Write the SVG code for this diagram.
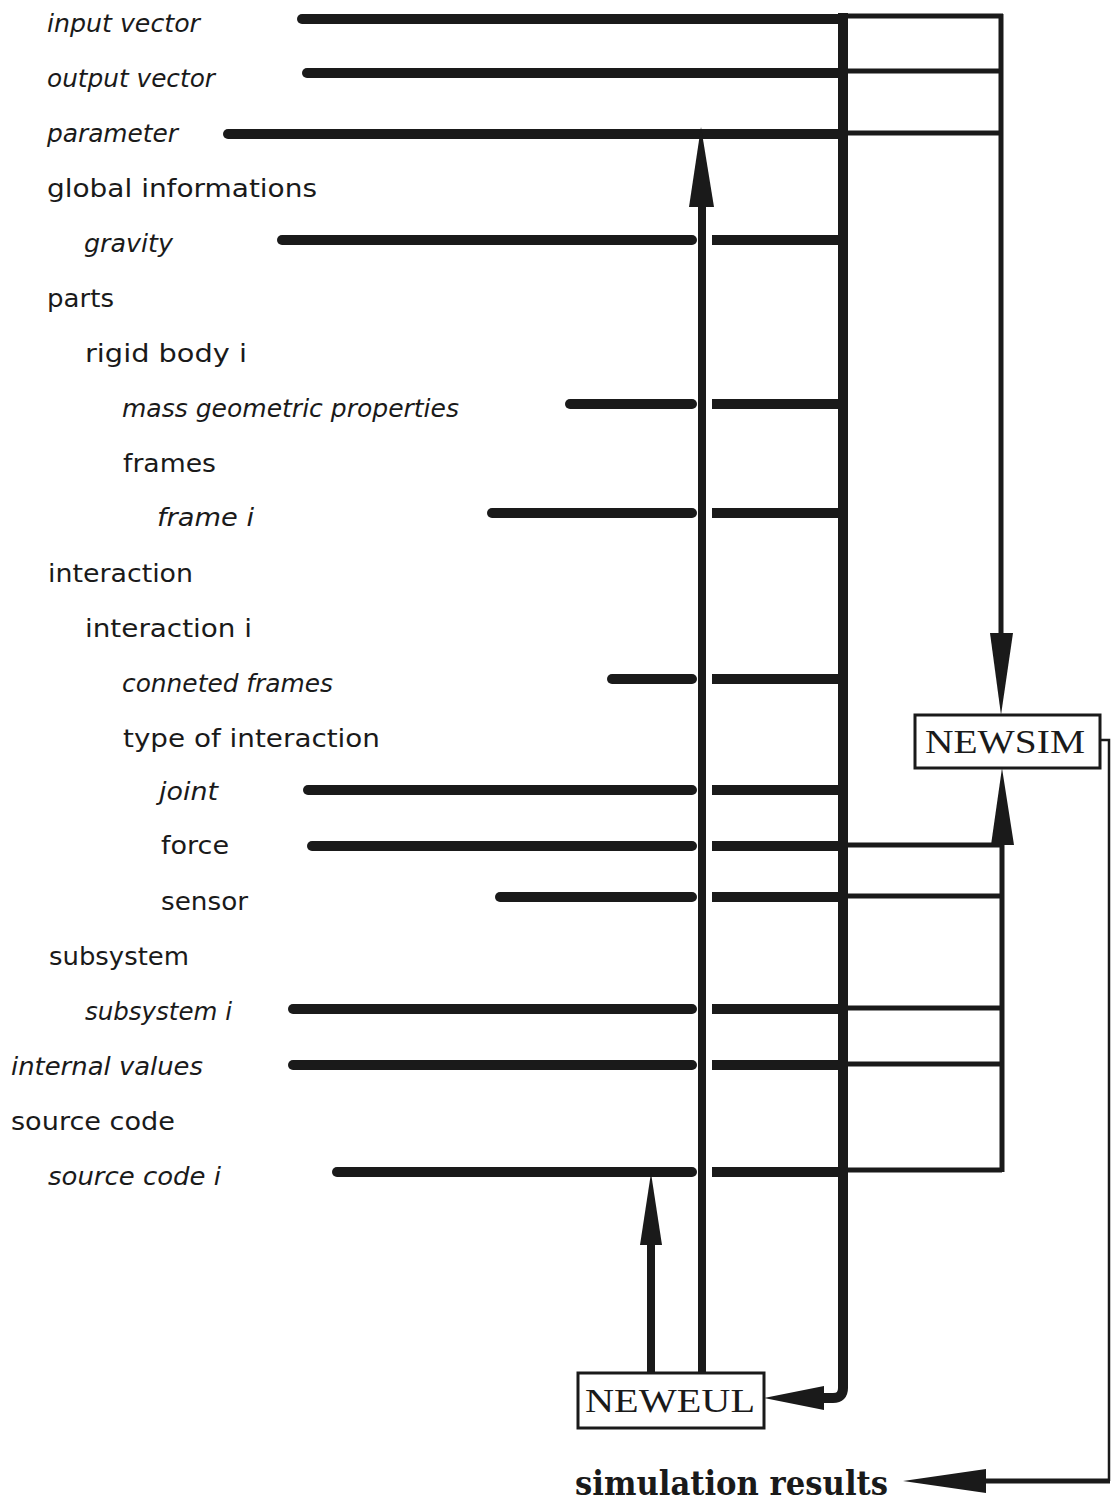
<svg xmlns="http://www.w3.org/2000/svg" width="1111" height="1502" viewBox="0 0 1111 1502">
<style>
.lbl{font-family:"DejaVu Sans","Liberation Sans",sans-serif;font-size:24px;fill:#1a1a1a}
.it{font-style:italic}
.box{fill:#fff;stroke:#1a1a1a;stroke-width:3}
.bt{font-family:"Liberation Serif","DejaVu Serif",serif;font-size:34px;fill:#1a1a1a}
.res{font-family:"DejaVu Serif","Liberation Serif",serif;font-size:33px;font-weight:bold;fill:#1a1a1a}
.tk{stroke:#1a1a1a;stroke-width:10;fill:none}
.tkl{stroke:#1a1a1a;stroke-width:10;fill:none;stroke-linecap:round}
.tn{stroke:#1a1a1a;stroke-width:5;fill:none}
.hl{stroke:#1a1a1a;stroke-width:2.5;fill:none}
.v{stroke:#1a1a1a;stroke-width:8;fill:none}
.ah{fill:#1a1a1a;stroke:none}
</style>
<rect width="1111" height="1502" fill="#fff"/>
<g id="labels">
<text class="lbl it" x="47" y="32" textLength="153" lengthAdjust="spacingAndGlyphs">input vector</text>
<text class="lbl it" x="47" y="87" textLength="168" lengthAdjust="spacingAndGlyphs">output vector</text>
<text class="lbl it" x="47" y="142" textLength="131" lengthAdjust="spacingAndGlyphs">parameter</text>
<text class="lbl" x="47" y="197" textLength="270" lengthAdjust="spacingAndGlyphs">global informations</text>
<text class="lbl it" x="84" y="252" textLength="89" lengthAdjust="spacingAndGlyphs">gravity</text>
<text class="lbl" x="47" y="307" textLength="67" lengthAdjust="spacingAndGlyphs">parts</text>
<text class="lbl" x="85" y="362" textLength="162" lengthAdjust="spacingAndGlyphs">rigid body i</text>
<text class="lbl it" x="122" y="417" textLength="337" lengthAdjust="spacingAndGlyphs">mass geometric properties</text>
<text class="lbl" x="123" y="472" textLength="93" lengthAdjust="spacingAndGlyphs">frames</text>
<text class="lbl it" x="157" y="526" textLength="97" lengthAdjust="spacingAndGlyphs">frame i</text>
<text class="lbl" x="48" y="582" textLength="145" lengthAdjust="spacingAndGlyphs">interaction</text>
<text class="lbl" x="85" y="637" textLength="167" lengthAdjust="spacingAndGlyphs">interaction i</text>
<text class="lbl it" x="122" y="692" textLength="211" lengthAdjust="spacingAndGlyphs">conneted frames</text>
<text class="lbl" x="123" y="747" textLength="257" lengthAdjust="spacingAndGlyphs">type of interaction</text>
<text class="lbl it" x="159" y="800" textLength="59" lengthAdjust="spacingAndGlyphs">joint</text>
<text class="lbl" x="161" y="854" textLength="68" lengthAdjust="spacingAndGlyphs">force</text>
<text class="lbl" x="161" y="910" textLength="87" lengthAdjust="spacingAndGlyphs">sensor</text>
<text class="lbl" x="49" y="965" textLength="140" lengthAdjust="spacingAndGlyphs">subsystem</text>
<text class="lbl it" x="85" y="1020" textLength="147" lengthAdjust="spacingAndGlyphs">subsystem i</text>
<text class="lbl it" x="11" y="1075" textLength="192" lengthAdjust="spacingAndGlyphs">internal values</text>
<text class="lbl" x="11" y="1130" textLength="164" lengthAdjust="spacingAndGlyphs">source code</text>
<text class="lbl it" x="48" y="1185" textLength="173" lengthAdjust="spacingAndGlyphs">source code i</text>
</g>
<g id="connectors">
<!-- top rows without gap -->
<path class="tkl" d="M302,19 H843"/>
<path class="tkl" d="M307,73 H843"/>
<path class="tkl" d="M228,134 H843"/>
<path class="tn" d="M843,16 H1003"/>
<path class="tn" d="M843,71 H1001"/>
<path class="tn" d="M843,133 H1001"/>
<!-- rows with gap around x=702 -->
<path class="tkl" d="M282,240 H692"/><path class="tk" d="M712,240 H843"/>
<path class="tkl" d="M570,404 H692"/><path class="tk" d="M712,404 H843"/>
<path class="tkl" d="M492,513 H692"/><path class="tk" d="M712,513 H843"/>
<path class="tkl" d="M612,679 H692"/><path class="tk" d="M712,679 H843"/>
<path class="tkl" d="M308,790 H692"/><path class="tk" d="M712,790 H843"/>
<path class="tkl" d="M312,846 H692"/><path class="tk" d="M712,846 H843"/>
<path class="tkl" d="M500,897 H692"/><path class="tk" d="M712,897 H843"/>
<path class="tkl" d="M293,1009 H692"/><path class="tk" d="M712,1009 H843"/>
<path class="tkl" d="M293,1065 H692"/><path class="tk" d="M712,1065 H843"/>
<path class="tkl" d="M337,1172 H692"/><path class="tk" d="M712,1172 H843"/>
<path class="tn" d="M843,845 H1002"/>
<path class="tn" d="M843,896 H1002"/>
<path class="tn" d="M843,1008 H1002"/>
<path class="tn" d="M843,1064 H1002"/>
<path class="tn" d="M843,1170 H1002"/>
<!-- right verticals to NEWSIM -->
<path class="tn" d="M1001,14 V640"/>
<polygon class="ah" points="990,633 1013,633 1001,715"/>
<path class="tn" d="M1002,1172 V840"/>
<polygon class="ah" points="991,845 1014,845 1002,768"/>
<!-- main vertical to NEWEUL -->
<path class="tk" d="M843,13 V1388 Q843,1398 833,1398 H818"/>
<polygon class="ah" points="764,1398 824,1386 824,1410"/>
<!-- NEWEUL upward arrows -->
<path class="v" d="M702,1373 V200"/>
<polygon class="ah" points="689,207 714,207 701,127"/>
<path class="v" d="M651,1373 V1240"/>
<polygon class="ah" points="640,1245 662,1245 651,1173"/>
<!-- NEWSIM to simulation results -->
<path class="hl" d="M1100,740 H1109 V1481"/>
<path class="tn" d="M1110,1481 H980"/>
<polygon class="ah" points="903,1481 986,1469 986,1493"/>
</g>
<g id="newsim">
<rect class="box" x="915" y="715" width="185" height="53"/>
<text class="bt" x="925" y="753" textLength="160" lengthAdjust="spacingAndGlyphs">NEWSIM</text>
</g>
<g id="neweul">
<rect class="box" x="578" y="1373" width="186" height="55"/>
<text class="bt" x="585" y="1412" textLength="170" lengthAdjust="spacingAndGlyphs">NEWEUL</text>
</g>
<g id="results">
<text class="res" x="575" y="1495" textLength="313" lengthAdjust="spacingAndGlyphs">simulation results</text>
</g>
</svg>
